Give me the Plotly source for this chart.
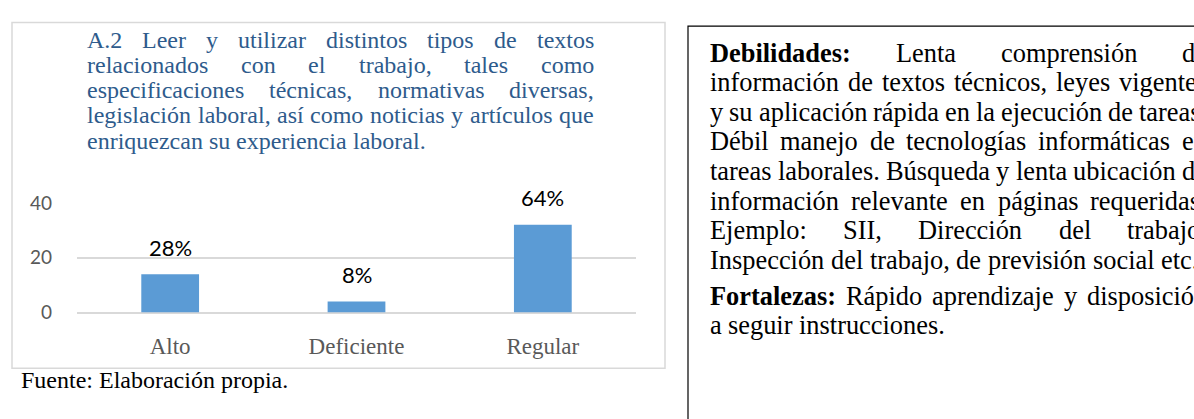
import unicodedata
import plotly.graph_objects as go

# ---------------- data ----------------
categories = ["Alto", "Deficiente", "Regular"]
counts = [14, 4, 32]
pct_labels = ["28%", "8%", "64%"]
y_ticks = [0, 20, 40]

title_lines = [
    ("A.2 Leer y utilizar distintos tipos de textos", True),
    ("relacionados con el trabajo, tales como", True),
    ("especificaciones técnicas, normativas diversas,", True),
    ("legislación laboral, así como noticias y artículos que", True),
    ("enriquezcan su experiencia laboral.", False),
]

right_lines = [
    ("**Debilidades: Lenta comprensión de", True),
    ("información de textos técnicos, leyes vigentes", True),
    ("y su aplicación rápida en la ejecución de tareas.", True),
    ("Débil manejo de tecnologías informáticas en", True),
    ("tareas laborales. Búsqueda y lenta ubicación de", True),
    ("información relevante en páginas requeridas.", True),
    ("Ejemplo: SII, Dirección del trabajo,", True),
    ("Inspección del trabajo, de previsión social etc.", False),
    ("**Fortalezas: Rápido aprendizaje y disposición", True),
    ("a seguir instrucciones.", False),
]

source_text = "Fuente: Elaboración propia."

# ---------------- layout helpers ----------------
W, H = 1194, 419

TIMES = {
    ' ': 250, 'a': 444, 'b': 500, 'c': 444, 'd': 500, 'e': 444, 'f': 333, 'g': 500,
    'h': 500, 'i': 278, 'j': 278, 'k': 500, 'l': 278, 'm': 778, 'n': 500, 'o': 500,
    'p': 500, 'q': 500, 'r': 333, 's': 389, 't': 278, 'u': 500, 'v': 500, 'w': 722,
    'x': 500, 'y': 500, 'z': 444,
    'A': 722, 'B': 667, 'C': 667, 'D': 722, 'E': 611, 'F': 556, 'G': 722, 'H': 722,
    'I': 333, 'J': 389, 'K': 722, 'L': 611, 'M': 889, 'N': 722, 'O': 722, 'P': 556,
    'Q': 722, 'R': 667, 'S': 556, 'T': 611, 'U': 722, 'V': 722, 'W': 944, 'X': 722,
    'Y': 722, 'Z': 611, '.': 250, ',': 250, ':': 278, '%': 833,
}
for d in "0123456789":
    TIMES[d] = 500
TIMES_B = dict(TIMES)
TIMES_B.update({'D': 722, 'F': 611, 'b': 556, 'd': 556, 'a': 500, 'r': 444,
                't': 333, ':': 333, 'e': 444, 'z': 444, 'o': 500, 's': 389})


def text_w(s, size, bold=False):
    tbl = TIMES_B if bold else TIMES
    tot = 0
    for ch in s:
        base = unicodedata.normalize('NFD', ch)[0]
        tot += tbl.get(base, 500)
    return tot * size / 1000.0


annotations = []


def place_line(line, x0, x1, yc, size, color, justify, family):
    bold_first = line.startswith("**")
    if bold_first:
        line = line[2:]
    words = line.split(" ")
    flags = [bold_first and i == 0 for i in range(len(words))]
    widths = [text_w(w, size, b) for w, b in zip(words, flags)]
    if justify and len(words) > 1:
        gap = (x1 - x0 - sum(widths)) / (len(words) - 1)
    else:
        gap = 0.25 * size
    x = x0
    for w, b, wd in zip(words, flags, widths):
        annotations.append(dict(
            text=f"<b>{w}</b>" if b else w, x=x / W, y=1 - yc / H,
            xref="paper", yref="paper", xanchor="left", yanchor="middle",
            showarrow=False, borderpad=0,
            font=dict(family=family, size=size, color=color)))
        x += wd + gap


# title (justified, serif, blue)
for i, (ln, just) in enumerate(title_lines):
    place_line(ln, 86, 593, 30 + 26.5 * i, 24, "#2E5B8C", just, "Liberation Serif")

# right text box
ys_right = [43 + 31.3 * i for i in range(8)] + [300, 331]
for (ln, just), yc in zip(right_lines, ys_right):
    place_line(ln, 709, 1206, yc, 26.4, "#000000", just, "Liberation Serif")

# source line
annotations.append(dict(text=source_text, x=20 / W, y=1 - 389 / H, xref="paper", yref="paper",
                        xanchor="left", yanchor="middle", showarrow=False, borderpad=0,
                        font=dict(family="Liberation Serif", size=24, color="#000000")))

# data labels
for c, v, t in zip(categories, counts, pct_labels):
    annotations.append(dict(text=t, x=c, y=v, xref="x", yref="y", xanchor="center",
                            yanchor="middle", yshift=27, showarrow=False,
                            font=dict(family="Lato", size=22, color="#000000")))

fig = go.Figure(go.Bar(x=categories, y=counts, marker_color="#5B9BD5",
                       marker_line_width=0, width=0.31, hoverinfo="skip"))

fig.update_layout(
    width=W, height=H, margin=dict(l=0, r=0, t=0, b=0),
    paper_bgcolor="white", plot_bgcolor="white", showlegend=False,
    xaxis=dict(domain=[77 / W, 636 / W], showgrid=False, showline=False, ticks="",
               tickfont=dict(family="Liberation Serif", size=23, color="#595959"),
               ticklabelstandoff=17, fixedrange=True),
    yaxis=dict(domain=[1 - 318 / H, 1 - 202 / H], range=[0, 40], tickvals=y_ticks,
               showgrid=True, gridcolor="#D9D9D9", gridwidth=1.5,
               zeroline=True, zerolinecolor="#D9D9D9", zerolinewidth=1.5,
               showline=False, ticks="",
               tickfont=dict(family="Lato", size=19, color="#595959"),
               ticklabelstandoff=24, fixedrange=True),
    annotations=annotations,
    shapes=[
        dict(type="rect", xref="paper", yref="paper", x0=12 / W, x1=665 / W,
             y0=1 - 377 / H, y1=1 - 11 / H, line=dict(color="#D9D9D9", width=1.5),
             fillcolor="rgba(0,0,0,0)", layer="below"),
        dict(type="rect", xref="paper", yref="paper", x0=688 / W, x1=1210 / W,
             y0=1 - 440 / H, y1=1 - 15 / H, line=dict(color="#000000", width=1.2),
             fillcolor="rgba(0,0,0,0)"),
    ],
)

fig.write_html(
    "out.html",
    config={"displayModeBar": False},
    post_script="document.body.style.margin='0';document.body.style.overflow='hidden';",
)
